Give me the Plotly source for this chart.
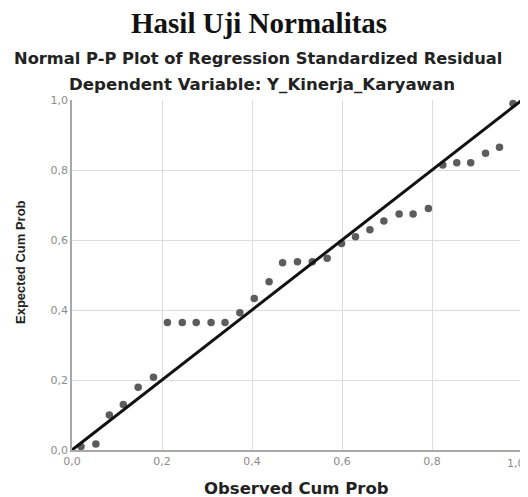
import plotly.graph_objects as go

# Data
observed_cum_prob = [0.020, 0.053, 0.083, 0.114, 0.147, 0.181, 0.212, 0.245, 0.276, 0.309,
                     0.340, 0.373, 0.405, 0.438, 0.468, 0.501, 0.534, 0.567, 0.599, 0.630,
                     0.662, 0.693, 0.727, 0.758, 0.792, 0.824, 0.855, 0.886, 0.919, 0.950, 0.980]
expected_cum_prob = [0.010, 0.017, 0.100, 0.130, 0.179, 0.208, 0.364, 0.364, 0.364, 0.364,
                     0.364, 0.392, 0.433, 0.481, 0.535, 0.538, 0.538, 0.548, 0.590, 0.609,
                     0.629, 0.654, 0.674, 0.674, 0.690, 0.814, 0.821, 0.821, 0.848, 0.865, 0.990]
reference_line = [0.0, 1.0]
tick_values = [0.0, 0.2, 0.4, 0.6, 0.8, 1.0]
edge_tick_label = "1,0"

# page body adds an 8px offset; compensate so the plot lands where the reference has it
OFF = 8
W, H = 528 - OFF, 497 - OFF
L, R, T, B = 72 - OFF, 6, 100 - OFF, 47
pw, ph = W - L - R, H - T - B

def px_x(p):  # window pixel -> paper x
    return (p - OFF - L) / pw

def px_y(p):  # window pixel -> paper y
    return (H - B - (p - OFF)) / ph

tick_font = dict(family="DejaVu Sans", size=11, color="#8c8c8c")

fig = go.Figure()
fig.add_trace(go.Scatter(
    x=observed_cum_prob, y=expected_cum_prob, mode="markers",
    marker=dict(color="#5c5c5c", size=7.5, line=dict(width=0)),
    showlegend=False, cliponaxis=False))
fig.add_trace(go.Scatter(
    x=reference_line, y=reference_line, mode="lines",
    line=dict(color="#111111", width=3),
    showlegend=False, cliponaxis=False))

axis_common = dict(
    range=[0, 1], tickvals=tick_values, tickformat=".1f",
    showgrid=True, gridcolor="#dcdcdc", gridwidth=1.2,
    showline=True, linecolor="#a8a8a8", linewidth=1.6,
    zeroline=False, ticks="", mirror=False,
    tickfont=tick_font,
    fixedrange=True,
)
fig.update_xaxes(**axis_common)
fig.update_yaxes(**axis_common)

annotations = [
    dict(text="<b>Hasil Uji Normalitas</b>", x=px_x(259), y=px_y(23),
         font=dict(family="Liberation Serif", size=29, color="#111111")),
    dict(text="<b>Normal P-P Plot of Regression Standardized Residual</b>", x=px_x(258), y=px_y(59),
         font=dict(family="DejaVu Sans", size=16.3, color="#222222")),
    dict(text="<b>Dependent Variable: Y_Kinerja_Karyawan</b>", x=px_x(262), y=px_y(85),
         font=dict(family="DejaVu Sans", size=16.6, color="#222222")),
    dict(text="<b>Observed Cum Prob</b>", x=px_x(296), y=px_y(488),
         font=dict(family="DejaVu Sans", size=16.5, color="#222222")),
    dict(text="<b>Expected Cum Prob</b>", x=px_x(20), y=px_y(262), textangle=-90,
         font=dict(family="Liberation Sans", size=13, color="#222222")),
    # the right-most x tick label, kept inside the page edge
    dict(text=edge_tick_label, x=tick_values[-1], xref="x", y=px_y(463),
         xanchor="right", xshift=5, font=tick_font),
]
for a in annotations:
    a.setdefault("xref", "paper")
    a.setdefault("xanchor", "center")
    a.update(yref="paper", showarrow=False, yanchor="middle")

fig.update_layout(
    width=W, height=H,
    margin=dict(l=L, r=R, t=T, b=B, pad=0),
    paper_bgcolor="white", plot_bgcolor="white",
    separators=",.",
    annotations=annotations,
)

fig.write_html("out.html", config={"displayModeBar": False})
